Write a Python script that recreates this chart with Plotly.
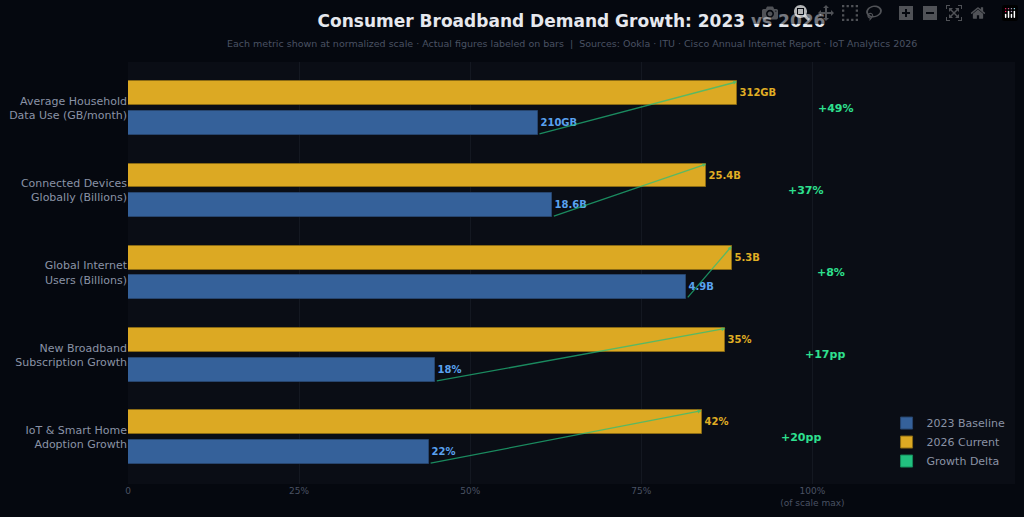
import plotly.graph_objects as go

# Data (normalized to scale max) with actual labels
metrics = ["Average Household<br>Data Use (GB/month)", "Connected Devices<br>Globally (Billions)",
           "Global Internet<br>Users (Billions)", "New Broadband<br>Subscription Growth",
           "IoT & Smart Home<br>Adoption Growth"]
base_norm = [0.599, 0.620, 0.816, 0.449, 0.440]
curr_norm = [0.890, 0.845, 0.882, 0.873, 0.838]
base_labels = ["210GB", "18.6B", "4.9B", "18%", "22%"]
curr_labels = ["312GB", "25.4B", "5.3B", "35%", "42%"]
growth_labels = ["+49%", "+37%", "+8%", "+17pp", "+20pp"]

n = len(metrics)
ypos = [n - 1 - i for i in range(n)]
off = 0.18
font = "DejaVu Sans"

fig = go.Figure()
fig.add_trace(go.Bar(name="2023 Baseline", y=[y - off for y in ypos], x=base_norm, orientation="h",
                     width=0.29, marker=dict(color="#35619a", line=dict(color="#27456e", width=1)),
                     text=["<b>%s</b>" % t for t in base_labels], textposition="outside", cliponaxis=False,
                     textfont=dict(color="#5aa2f0", size=10, family=font)))
fig.add_trace(go.Bar(name="2026 Current", y=[y + off for y in ypos], x=curr_norm, orientation="h",
                     width=0.29, marker=dict(color="#dca923", line=dict(color="#8a6a14", width=1)),
                     text=["<b>%s</b>" % t for t in curr_labels], textposition="outside", cliponaxis=False,
                     textfont=dict(color="#e0ae24", size=10, family=font)))
fig.add_trace(go.Bar(name="Growth Delta", y=[None], x=[None], orientation="h",
                     marker=dict(color="#22c07f", line=dict(color="#148a5a", width=1))))

for i in range(n):
    fig.add_annotation(x=curr_norm[i], y=ypos[i] + off + 0.14, ax=base_norm[i], ay=ypos[i] - off - 0.14,
                       xref="x", yref="y", axref="x", ayref="y", text="", showarrow=True,
                       arrowhead=2, arrowsize=0.6, arrowwidth=1.3, arrowcolor="rgba(34,192,127,0.7)")
    fig.add_annotation(x=curr_norm[i] + 0.145, y=ypos[i], xref="x", yref="y", text="<b>%s</b>" % growth_labels[i],
                       showarrow=False, font=dict(color="#2ee08f", size=11, family=font))

fig.update_layout(
    width=1024, height=517,
    paper_bgcolor="#05080f", plot_bgcolor="#0a0d15",
    margin=dict(l=126, r=9, t=62, b=32),
    font=dict(family=font, color="#8a93a6"),
    title=dict(text="<b>Consumer Broadband Demand Growth: 2023 vs 2026</b>", x=0.5, xref="paper", xanchor="center",
               y=0.97, yref="container", font=dict(size=17, color="#e6e8ee", family=font)),
    barmode="overlay", bargap=0,
    showlegend=True,
    legend=dict(x=0.995, y=0.02, xanchor="right", yanchor="bottom", bgcolor="rgba(0,0,0,0)",
                font=dict(size=11, color="#8a93a6"), traceorder="normal"),
    xaxis=dict(range=[0, 1.296], tickvals=[0, 0.25, 0.5, 0.75, 1.0],
               ticktext=["0", "25%", "50%", "75%", "100%<br>(of scale max)"],
               showgrid=True, gridcolor="#141821", zeroline=False,
               tickfont=dict(size=9, color="#4a5263"), ticks=""),
    yaxis=dict(range=[-0.57, 4.56], tickvals=ypos, ticktext=metrics, showgrid=False, zeroline=False,
               tickfont=dict(size=11, color="#8a93a6"), ticks=""),
)
fig.add_annotation(text="Each metric shown at normalized scale · Actual figures labeled on bars  |  Sources: Ookla · ITU · Cisco Annual Internet Report · IoT Analytics 2026",
                   x=0.5, y=1.0 + (62 - 43) / 423, yanchor="middle", xref="paper", yref="paper", showarrow=False,
                   font=dict(size=9.5, color="#4a5263"))

fig.write_html("out.html", post_script="document.body.style.margin='0';document.body.style.background='#05080f';")
